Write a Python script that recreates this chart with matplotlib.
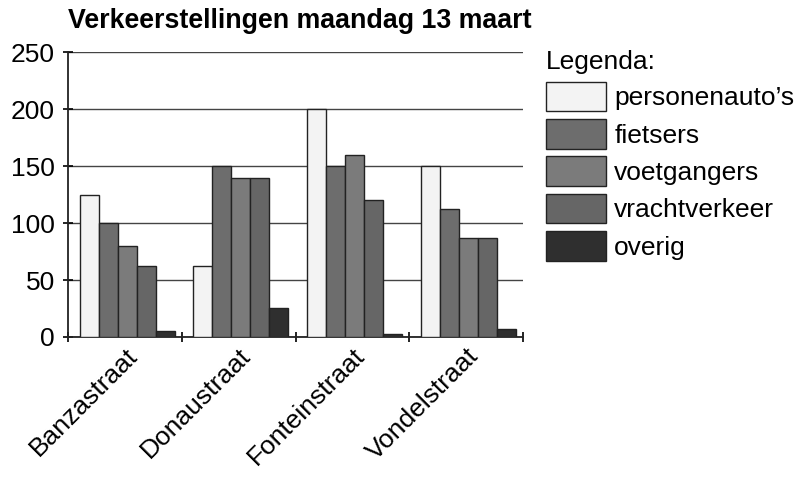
import numpy as np
import matplotlib.pyplot as plt
from matplotlib.ticker import FixedLocator

plt.rcParams["font.family"] = ["Liberation Sans", "DejaVu Sans"]

# Data
straten = ["Banzastraat", "Donaustraat", "Fonteinstraat", "Vondelstraat"]
series = ["personenauto\u2019s", "fietsers", "voetgangers", "vrachtverkeer", "overig"]
personenautos = [125, 62, 200, 150]
fietsers = [100, 150, 150, 112]
voetgangers = [80, 140, 160, 87]
vrachtverkeer = [62, 140, 120, 87]
overig = [5, 25, 3, 7]
values = [personenautos, fietsers, voetgangers, vrachtverkeer, overig]
colors = ["#f3f3f3", "#6d6d6d", "#7b7b7b", "#666666", "#2f2f2f"]

fig = plt.figure(figsize=(8, 4.79), dpi=100)
ax = fig.add_axes([0.085, 0.2965, 0.569, 0.5945])

x = np.arange(len(straten))
w = 0.167
offset = 0.02
for i, (vals, c, lab) in enumerate(zip(values, colors, series)):
    ax.bar(x + offset + (i - 2) * w, vals, width=w, color=c, edgecolor="#222222",
           linewidth=1.0, label=lab, zorder=3)

ax.set_xlim(-0.5, 3.5)
ax.set_ylim(0, 250)
ax.set_yticks([0, 50, 100, 150, 200, 250])
ax.yaxis.grid(True, color="#444444", linewidth=1.0, zorder=0)
ax.set_axisbelow(True)

ax.set_xticks(x)
ax.set_xticklabels(straten, rotation=45, ha="right", rotation_mode="anchor", fontsize=19)
ax.xaxis.set_minor_locator(FixedLocator([-0.5, 0.5, 1.5, 2.5, 3.5]))
ax.tick_params(axis="x", which="major", length=0, pad=5)
ax.tick_params(axis="x", which="minor", length=7, direction="inout", width=1.2)
ax.tick_params(axis="y", length=7, direction="inout", width=1.2, labelsize=19, pad=6)

for s in ["top", "right"]:
    ax.spines[s].set_visible(False)
for s in ["left", "bottom"]:
    ax.spines[s].set_linewidth(1.3)
    ax.spines[s].set_color("#222222")

fig.text(68 / 800, 1 - 28 / 479, "Verkeerstellingen maandag 13 maart",
         fontsize=19.3, fontweight="bold", ha="left", va="baseline")

leg = fig.legend(loc="upper left", bbox_to_anchor=(0.669, 0.918), frameon=False,
                 title="Legenda:", fontsize=19, title_fontsize=19,
                 handlelength=2.3, handleheight=1.34, labelspacing=0.3,
                 handletextpad=0.3, borderaxespad=0)
leg._legend_box.align = "left"

fig.savefig("out.png", dpi=100)
